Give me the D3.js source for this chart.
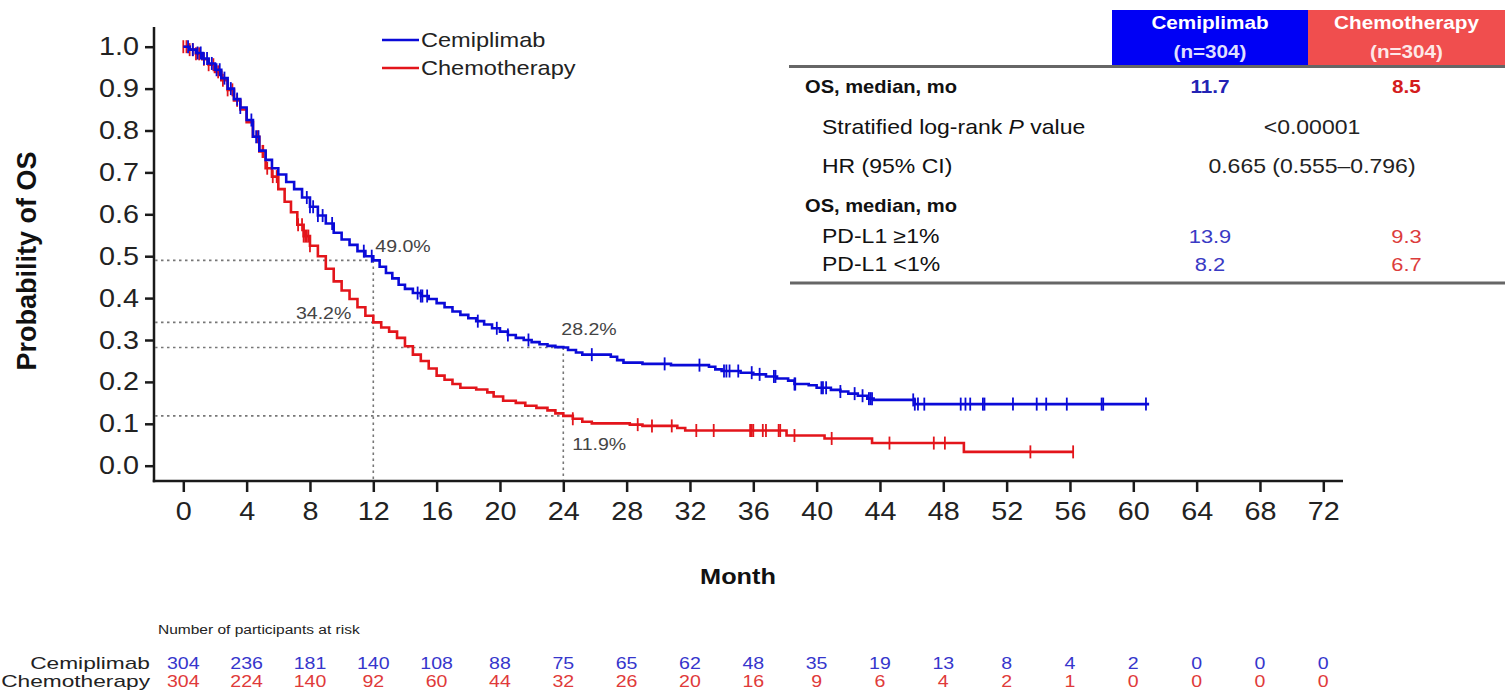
<!DOCTYPE html>
<html><head><meta charset="utf-8">
<script src="https://cdn.jsdelivr.net/npm/d3@7"></script>
<style>
body{margin:0;background:#fff;}
svg text{font-family:"Liberation Sans",Arial,Helvetica,sans-serif;}
</style>
</head><body>
<svg id="chart" width="1505" height="697"></svg>
<script>
// ---------------- DATA ----------------
const seriesNames = ["Cemiplimab", "Chemotherapy"];

// Kaplan–Meier step points [month, survival probability]
const cemiCurve = [[0,1.0],[0.4,0.993],[0.8,0.985],[1.2,0.972],[1.6,0.96],[2.0,0.945],[2.4,0.925],[2.8,0.9],[3.2,0.875],[3.6,0.855],[4.0,0.825],[4.4,0.785],[4.8,0.752],[5.2,0.73],[5.6,0.71],[6.0,0.695],[6.5,0.677],[7.0,0.66],[7.5,0.64],[8.0,0.618],[8.5,0.597],[9.0,0.578],[9.5,0.556],[10.0,0.54],[10.5,0.527],[11.0,0.512],[11.5,0.5],[12.0,0.49],[12.4,0.475],[12.8,0.46],[13.2,0.447],[13.6,0.432],[14.0,0.422],[14.5,0.412],[15.0,0.405],[15.5,0.398],[16.0,0.388],[16.5,0.378],[17.0,0.368],[17.5,0.36],[18.0,0.352],[18.5,0.345],[19.0,0.337],[19.5,0.328],[20.0,0.32],[20.5,0.312],[21.0,0.305],[21.5,0.3],[22.0,0.295],[22.5,0.29],[23.0,0.286],[23.5,0.283],[24.0,0.282],[24.3,0.276],[24.8,0.27],[25.2,0.265],[27.0,0.26],[27.4,0.252],[27.8,0.246],[29.0,0.243],[30.8,0.24],[33.2,0.236],[33.6,0.23],[34.0,0.226],[35.2,0.222],[36.0,0.218],[36.8,0.213],[37.5,0.208],[38.2,0.203],[38.6,0.195],[39.5,0.192],[40.0,0.186],[40.9,0.181],[41.5,0.177],[42.0,0.172],[42.6,0.167],[43.2,0.16],[43.6,0.157],[46.2,0.147],[61.0,0.147]];
const chemoCurve = [[0,1.0],[0.4,0.993],[0.8,0.983],[1.2,0.97],[1.6,0.957],[2.0,0.94],[2.4,0.92],[2.8,0.897],[3.2,0.872],[3.6,0.85],[4.0,0.82],[4.4,0.785],[4.8,0.75],[5.2,0.71],[5.6,0.69],[6.0,0.66],[6.4,0.63],[6.8,0.605],[7.2,0.575],[7.6,0.548],[8.0,0.525],[8.5,0.5],[9.0,0.47],[9.5,0.44],[10.0,0.418],[10.5,0.398],[11.0,0.378],[11.5,0.358],[12.0,0.342],[12.5,0.33],[13.0,0.32],[13.5,0.305],[14.0,0.285],[14.5,0.265],[15.0,0.25],[15.5,0.232],[16.0,0.215],[16.5,0.205],[17.0,0.195],[17.5,0.186],[18.5,0.182],[19.2,0.175],[19.6,0.165],[20.2,0.155],[21.0,0.15],[21.6,0.143],[22.3,0.138],[23.0,0.132],[23.5,0.125],[24.0,0.119],[24.6,0.112],[25.2,0.105],[25.8,0.101],[28.2,0.098],[29.0,0.095],[31.2,0.09],[31.7,0.084],[38.1,0.072],[40.5,0.065],[43.5,0.054],[49.3,0.033],[56.2,0.033]];

// censoring times (months)
const cemiCensor = [0.3,0.6,0.9,1.1,1.3,1.5,1.8,2.1,2.3,2.6,3.0,3.4,3.6,4.3,4.6,4.75,7.8,8.0,8.2,8.5,8.8,9.4,11.4,11.9,14.8,15.0,15.1,15.4,18.6,19.8,20.5,21.8,25.8,30.4,32.6,34.15,34.3,34.5,35.05,35.9,36.4,37.3,37.4,38.6,38.65,40.3,40.4,40.6,41.5,42.4,42.9,43.3,43.4,43.5,46.1,46.2,46.4,46.8,49.1,49.4,49.7,50.5,50.6,52.4,53.9,54.5,55.8,58.0,58.1,60.8];
const chemoCensor = [0.0,0.2,0.4,0.6,0.8,1.0,1.3,1.6,1.9,2.2,2.5,2.8,3.1,3.4,4.7,5.0,5.05,5.3,5.65,5.9,7.25,7.5,7.6,7.7,7.8,7.9,8.0,24.6,28.7,29.6,30.85,32.4,33.5,35.8,35.9,36.0,36.6,36.8,37.6,37.7,38.6,40.95,44.6,47.4,48.1,53.5,56.2];

const xTicks = [0,4,8,12,16,20,24,28,32,36,40,44,48,52,56,60,64,68,72];
const yTicks = [0,0.1,0.2,0.3,0.4,0.5,0.6,0.7,0.8,0.9,1.0];

const landmarkMonths = [12, 24];
const cemiLandmark = [0.490, 0.282];
const chemoLandmark = [0.342, 0.119];

const riskMonths = [0,4,8,12,16,20,24,28,32,36,40,44,48,52,56,60,64,68,72];
const cemiRisk = [304,236,181,140,108,88,75,65,62,48,35,19,13,8,4,2,0,0,0];
const chemoRisk = [304,224,140,92,60,44,32,26,20,16,9,6,4,2,1,0,0,0,0];

const tableHeaders = [["Cemiplimab","(n=304)"],["Chemotherapy","(n=304)"]];
const tableLabels = ["OS, median, mo","Stratified log-rank |P| value","HR (95% CI)","OS, median, mo","PD-L1 ≥1%","PD-L1 <1%"];
const cemiTable = ["11.7", null, null, null, "13.9", "8.2"];
const chemoTable = ["8.5", null, null, null, "9.3", "6.7"];
const sharedTable = [null, "<0.00001", "0.665 (0.555–0.796)", null, null, null];

// ---------------- STYLE ----------------
const BLUE = "#0a0ad8", RED = "#e3151b";
const SX = 1.15; // horizontal text stretch of the original figure
const svg = d3.select("#chart");

const x = d3.scaleLinear().domain([0,72]).range([183.3,1323.3]);
const y = d3.scaleLinear().domain([0,1]).range([465.7,46.7]);

// axes
const yAx = svg.append("g").attr("transform","translate(154,0)")
  .call(d3.axisLeft(y).tickValues(yTicks).tickFormat(d3.format(".1f")).tickSize(9).tickPadding(6));
const xAx = svg.append("g").attr("transform","translate(0,481)")
  .call(d3.axisBottom(x).tickValues(xTicks).tickSize(11).tickPadding(10));
[yAx,xAx].forEach(g=>{
  g.select(".domain").remove();
  g.selectAll(".tick line").attr("stroke","#1a1a1a").attr("stroke-width",2.5);
  g.selectAll(".tick text").attr("font-size",25).attr("fill","#222").attr("font-family","Liberation Sans, Arial, sans-serif");
});
svg.append("line").attr("x1",154).attr("x2",154).attr("y1",27).attr("y2",482.2).attr("stroke","#1a1a1a").attr("stroke-width",2.5);
svg.append("line").attr("x1",152.8).attr("x2",1343).attr("y1",481).attr("y2",481).attr("stroke","#1a1a1a").attr("stroke-width",2.5);

svg.append("text").attr("transform","translate(36,261) rotate(-90)").attr("text-anchor","middle")
  .attr("font-size",27).attr("font-weight","bold").attr("fill","#111").text("Probability of OS");
svg.append("text").attr("x",738).attr("y",584).attr("text-anchor","middle")
  .attr("font-size",22).attr("font-weight","bold").attr("fill","#111").text("Month");

// landmark dotted lines
const dot = {stroke:"#777", "stroke-width":1.6, "stroke-dasharray":"2.5,3.5"};
function dline(x1,y1,x2,y2){
  const l = svg.append("line").attr("x1",x1).attr("y1",y1).attr("x2",x2).attr("y2",y2);
  Object.entries(dot).forEach(([k,v])=>l.attr(k,v));
}
landmarkMonths.forEach((m,i)=>{
  dline(155, y(cemiLandmark[i]), x(m), y(cemiLandmark[i]));
  dline(155, y(chemoLandmark[i]), x(m), y(chemoLandmark[i]));
  dline(x(m), y(cemiLandmark[i]), x(m), 480);
});
const pct = d3.format(".1%");
const lmStyle = t=>t.attr("font-size",17).attr("fill","#444");
lmStyle(svg.append("text").attr("x",x(12)+2).attr("y",y(cemiLandmark[0])-8).text(pct(cemiLandmark[0])));
lmStyle(svg.append("text").attr("x",x(12)-22).attr("y",y(chemoLandmark[0])-3).attr("text-anchor","end").text(pct(chemoLandmark[0])));
lmStyle(svg.append("text").attr("x",x(24)-2).attr("y",y(cemiLandmark[1])-13).text(pct(cemiLandmark[1])));
lmStyle(svg.append("text").attr("x",x(24)+9).attr("y",y(chemoLandmark[1])+34).text(pct(chemoLandmark[1])));

// curves
const line = d3.line().x(d=>x(d[0])).y(d=>y(d[1])).curve(d3.curveStepAfter);
function survAt(curve,t){ let s=curve[0][1]; for(const p of curve){ if(p[0]<=t) s=p[1]; } return s; }
[[chemoCurve,chemoCensor,RED],[cemiCurve,cemiCensor,BLUE]].forEach(([c,cs,col])=>{
  svg.append("path").attr("d",line(c)).attr("fill","none").attr("stroke",col).attr("stroke-width",2.6);
  svg.append("g").selectAll("line").data(cs).join("line")
    .attr("x1",d=>x(d)).attr("x2",d=>x(d))
    .attr("y1",d=>y(survAt(c,d))-6.5).attr("y2",d=>y(survAt(c,d))+6.5)
    .attr("stroke",col).attr("stroke-width",1.8);
});

// legend
[BLUE,RED].forEach((col,i)=>{
  const yy = 40 + i*28;
  svg.append("line").attr("x1",382).attr("x2",419).attr("y1",yy).attr("y2",yy).attr("stroke",col).attr("stroke-width",2.6);
  svg.append("text").attr("x",421).attr("y",yy).attr("dy","0.35em").attr("font-size",20.5).attr("fill","#222").text(seriesNames[i]);
});

// summary table
const colC = [1210, 1406.5];
svg.append("rect").attr("x",1112).attr("y",10).attr("width",196).attr("height",56).attr("fill","#0000f5");
svg.append("rect").attr("x",1308).attr("y",10).attr("width",197).attr("height",56).attr("fill","#f04e4e");
tableHeaders.forEach((h,i)=>{
  svg.append("text").attr("x",colC[i]).attr("y",29).attr("text-anchor","middle").attr("font-size",18).attr("font-weight","bold").attr("fill","#fff").text(h[0]);
  svg.append("text").attr("x",colC[i]).attr("y",58).attr("text-anchor","middle").attr("font-size",18).attr("font-weight","bold").attr("fill","#fff").attr("fill-opacity",0.88).text(h[1]);
});
svg.append("line").attr("x1",789).attr("x2",1505).attr("y1",66.5).attr("y2",66.5).attr("stroke","#666").attr("stroke-width",3);
svg.append("line").attr("x1",790).attr("x2",1505).attr("y1",283).attr("y2",283).attr("stroke","#666").attr("stroke-width",3);
const rowY = [87,127,166,206,236,264];
const bold = [true,false,false,true,false,false];
tableLabels.forEach((lab,i)=>{
  const t = svg.append("text").attr("x", bold[i]?805:822).attr("y",rowY[i]).attr("dy","0.35em")
    .attr("font-size", bold[i]?17.5:20).attr("font-weight", bold[i]?"bold":"normal").attr("fill","#111");
  lab.split("|").forEach((part,k)=>{ t.append("tspan").attr("font-style", k===1?"italic":"normal").text(part); });
  if(cemiTable[i]!==null){
    svg.append("text").attr("x",colC[0]).attr("y",rowY[i]).attr("dy","0.35em").attr("text-anchor","middle")
      .attr("font-size",bold[i]?18:19).attr("font-weight",bold[i]?"bold":"normal").attr("fill",bold[i]?"#2323b4":"#3a3ac4").text(cemiTable[i]);
    svg.append("text").attr("x",colC[1]).attr("y",rowY[i]).attr("dy","0.35em").attr("text-anchor","middle")
      .attr("font-size",bold[i]?18:19).attr("font-weight",bold[i]?"bold":"normal").attr("fill",bold[i]?"#d41c1c":"#dc3c3c").text(chemoTable[i]);
  }
  if(sharedTable[i]!==null){
    svg.append("text").attr("x",1312).attr("y",rowY[i]).attr("dy","0.35em").attr("text-anchor","middle")
      .attr("font-size",20).attr("fill","#222").text(sharedTable[i]);
  }
});

// number at risk
svg.append("text").attr("x",158).attr("y",634).attr("font-size",13.5).attr("fill","#222").text("Number of participants at risk");
[[cemiRisk,"#3636cc"],[chemoRisk,"#e03a3a"]].forEach(([arr,col],i)=>{
  const yy = 663 + i*18;
  svg.append("text").attr("x",150).attr("y",yy).attr("dy","0.35em").attr("text-anchor","end")
    .attr("font-size",16).attr("data-sx",1.42).attr("fill","#222").text(seriesNames[i]);
  svg.append("g").selectAll("text").data(arr).join("text")
    .attr("x",(d,k)=>x(riskMonths[k])).attr("y",yy).attr("dy","0.35em").attr("text-anchor","middle")
    .attr("font-size",17).attr("fill",col).text(d=>d);
});

// horizontal stretch of all non-rotated text around its anchor x
svg.selectAll("text").each(function(){
  const el = d3.select(this);
  if((el.attr("transform")||"").includes("rotate")) return;
  const xx = +(el.attr("x")||0);
  const sx = el.attr("data-sx") ? +el.attr("data-sx") : SX;
  const prev = el.attr("transform")||"";
  el.attr("transform", `${prev} translate(${xx},0) scale(${sx},1) translate(${-xx},0)`);
});
</script>
</body></html>
